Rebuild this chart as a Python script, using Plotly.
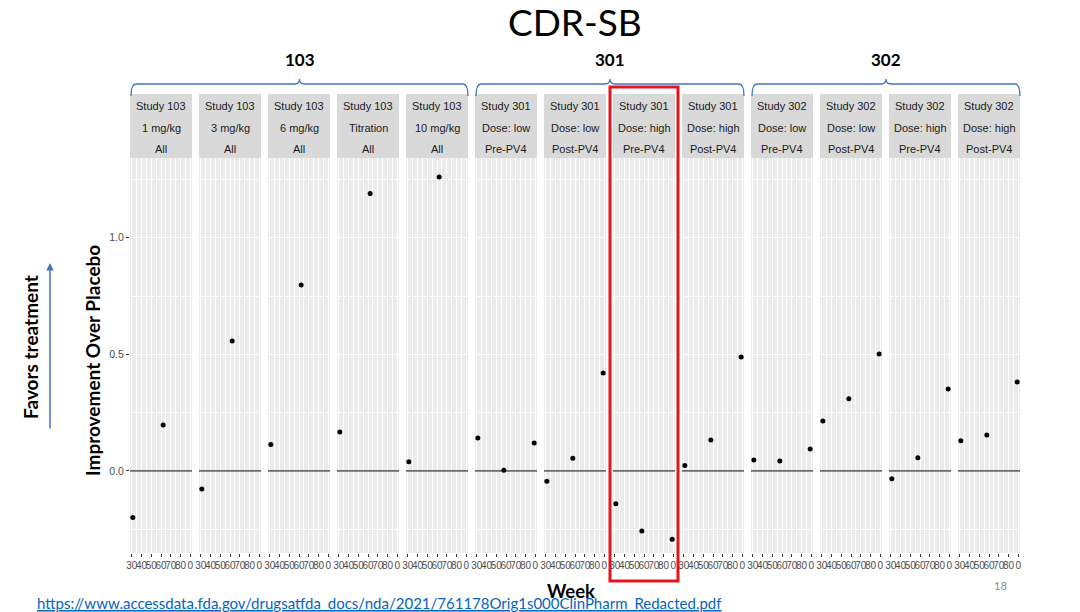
"""
CDR-SB - improvement over placebo by study / dose / period
-----------------------------------------------------------
Faceted dot plot, one panel per study arm.
"""
import plotly.graph_objects as go
from plotly.subplots import make_subplots

# --------------------------------------------------------------------
#                               Data
# --------------------------------------------------------------------
# Strip labels (three lines per panel)
strip_study = ["Study 103"] * 5 + ["Study 301"] * 4 + ["Study 302"] * 4
strip_dose = ["1 mg/kg", "3 mg/kg", "6 mg/kg", "Titration", "10 mg/kg",
              "Dose: low", "Dose: low", "Dose: high", "Dose: high",
              "Dose: low", "Dose: low", "Dose: high", "Dose: high"]
strip_period = ["All"] * 5 + ["Pre-PV4", "Post-PV4"] * 4

# Weeks of assessment
weeks_103 = [26, 54]
weeks_30x = [26, 50, 78]

# Improvement over placebo (CDR-SB)
values = [
    [-0.20, 0.197],            # 103 1 mg/kg
    [-0.078, 0.557],           # 103 3 mg/kg
    [0.113, 0.797],            # 103 6 mg/kg
    [0.167, 1.19],             # 103 titration
    [0.039, 1.26],             # 103 10 mg/kg
    [0.141, 0.003, 0.12],      # 301 low pre
    [-0.044, 0.054, 0.42],     # 301 low post
    [-0.141, -0.258, -0.293],  # 301 high pre
    [0.023, 0.133, 0.489],     # 301 high post
    [0.047, 0.043, 0.094],     # 302 low pre
    [0.214, 0.309, 0.501],     # 302 low post
    [-0.034, 0.056, 0.351],    # 302 high pre
    [0.129, 0.154, 0.381],     # 302 high post
]

# Axis ticks
week_ticks = [25, 34, 43, 52, 61, 70, 79]
week_labels = ["30", "40", "50", "60", "70", "80", "0"]
y_ticks = [0.0, 0.5, 1.0]

# Study groups (brace label, first panel, last panel)
groups = [("103", 0, 4), ("301", 5, 8), ("302", 9, 12)]

url = ("https://www.accessdata.fda.gov/drugsatfda_docs/nda/2021/"
       "761178Orig1s000ClinPharm_Redacted.pdf")

# --------------------------------------------------------------------
#                               Plot
# --------------------------------------------------------------------
W, H = 1080, 612
L, R, T, B = 130, 60, 158, 59
PW, PH = W - L - R, H - T - B


def px_x(px):
    return (px - L) / PW


def px_y(py):
    return (H - B - py) / PH


n = len(values)
fig = make_subplots(rows=1, cols=n, shared_yaxes=True,
                    horizontal_spacing=7 / PW)

for i, vals in enumerate(values):
    wk = weeks_103 if len(vals) == 2 else weeks_30x
    fig.add_trace(go.Scatter(x=wk, y=vals, mode="markers",
                             marker=dict(color="black", size=5),
                             showlegend=False), row=1, col=i + 1)

fig.update_xaxes(range=[23.4, 80.6], tickmode="array",
                 tickvals=week_ticks, ticktext=week_labels, tickangle=0,
                 ticks="outside", ticklen=3, tickcolor="#333333",
                 tickfont=dict(family="Liberation Sans", size=10,
                               color="#4D4D4D"),
                 showgrid=True, gridcolor="white", gridwidth=1,
                 minor=dict(tickvals=[w + 4.5 for w in week_ticks[:-1]],
                            showgrid=True, gridcolor="white",
                            gridwidth=0.6),
                 zeroline=False, showline=False, fixedrange=True)
fig.update_yaxes(range=[-0.352, 1.342], tickmode="array",
                 tickvals=y_ticks, ticktext=["0.0", "0.5", "1.0"],
                 ticks="outside", ticklen=3, tickcolor="#333333",
                 tickfont=dict(family="Liberation Sans", size=10.5,
                               color="#4D4D4D"),
                 showgrid=True, gridcolor="white", gridwidth=1.1,
                 minor=dict(dtick=0.25, tick0=0, showgrid=True,
                            gridcolor="white", gridwidth=0.5),
                 zeroline=False, showline=False, fixedrange=True)
for c in range(2, n + 1):
    fig.update_yaxes(ticks="", col=c)

# Zero reference line
fig.add_hline(y=0, line_color="black", line_width=1)

shapes = []
annotations = []

# Strips
for i in range(n):
    dom = fig.layout["xaxis" if i == 0 else "xaxis%d" % (i + 1)].domain
    shapes.append(dict(type="rect", xref="paper", yref="paper",
                       x0=dom[0], x1=dom[1], y0=1.0, y1=px_y(94),
                       fillcolor="#D9D9D9", line_width=0, layer="below"))
    xc = (dom[0] + dom[1]) / 2
    for txt, py in zip([strip_study[i], strip_dose[i], strip_period[i]],
                       [106, 127.5, 149]):
        annotations.append(dict(text=txt, x=xc, y=px_y(py),
                                xref="paper", yref="paper",
                                showarrow=False, xanchor="center",
                                yanchor="middle",
                                font=dict(family="Liberation Sans", size=11,
                                          color="#1A1A1A")))

# Braces with group labels
for label, first, last in groups:
    d0 = fig.layout["xaxis" if first == 0 else "xaxis%d" % (first + 1)].domain
    d1 = fig.layout["xaxis%d" % (last + 1)].domain
    x0, x1 = d0[0] + 1 / PW, d1[1]
    xc = (x0 + x1) / 2
    yb, yl, yn = px_y(96), px_y(84), px_y(79)
    r = 5 / PW
    path = ("M %f,%f Q %f,%f %f,%f L %f,%f Q %f,%f %f,%f "
            "Q %f,%f %f,%f L %f,%f Q %f,%f %f,%f") % (
        x0, yb, x0, yl, x0 + r, yl, xc - r, yl, xc, yl, xc, yn,
        xc, yl, xc + r, yl, x1 - r, yl, x1, yl, x1, yb)
    shapes.append(dict(type="path", path=path, xref="paper", yref="paper",
                       line=dict(color="#4472C4", width=1.3)))
    annotations.append(dict(text="<b>%s</b>" % label, x=xc, y=px_y(59),
                            xref="paper", yref="paper", showarrow=False,
                            xanchor="center", yanchor="middle",
                            font=dict(family="Lato", size=17,
                                      color="black")))

# Highlight box around Study 301 / high / Pre-PV4
shapes.append(dict(type="rect", xref="paper", yref="paper",
                   x0=px_x(610), x1=px_x(678), y0=px_y(581), y1=px_y(87),
                   line=dict(color="#E8141C", width=3)))

# Titles and slide text
mid = dict(xref="paper", yref="paper", xanchor="center", yanchor="middle",
           showarrow=False)
annotations += [
    dict(text="CDR-SB", x=0.5, y=px_y(22),
         font=dict(family="Lato", size=37, color="black"), **mid),
    dict(text="<b>Improvement Over Placebo</b>", x=px_x(92), y=px_y(361),
         textangle=-90, font=dict(family="Lato", size=19, color="black"),
         **mid),
    dict(text="<b>Favors treatment</b>", x=px_x(30), y=px_y(347),
         textangle=-90, font=dict(family="Lato", size=19, color="black"),
         **mid),
    dict(text="<b>Week</b>", x=px_x(571), y=px_y(591),
         font=dict(family="Lato", size=18.5, color="black"), **mid),
    dict(text="18", x=px_x(1000), y=px_y(585),
         font=dict(family="Lato", size=11, color="#8C8C8C"), **mid),
    dict(text="", x=px_x(50), y=px_y(263), xref="paper", yref="paper",
         ax=0, ay=167, showarrow=True, arrowhead=2, arrowsize=1,
         arrowwidth=1.5, arrowcolor="#4472C4"),
    dict(text="<u>%s</u>" % url, x=px_x(35), y=px_y(603), xref="paper",
         yref="paper", xanchor="left", yanchor="middle", showarrow=False,
         font=dict(family="Lato", size=15, color="#0563C1")),
]

fig.update_layout(width=W, height=H,
                  margin=dict(l=L, r=R, t=T, b=B),
                  paper_bgcolor="white", plot_bgcolor="#EBEBEB",
                  shapes=list(fig.layout.shapes) + shapes,
                  annotations=annotations)

# Page body margin off so the figure sits at the window's corner
fig.write_html("out.html", config={"displayModeBar": False},
               post_script="document.body.style.margin='0';"
                           "document.body.style.overflow='hidden';")
